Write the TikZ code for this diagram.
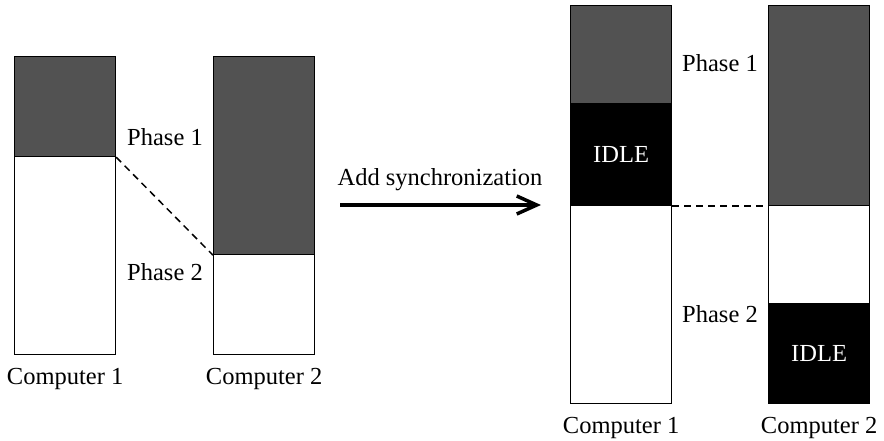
\documentclass[tikz,border=0pt]{standalone}
\usepackage{fontspec}
\setmainfont{Liberation Serif}
\usetikzlibrary{arrows.meta, positioning}

\tikzset{
phase/.style={draw, line width=1.2pt, inner sep=0, minimum width=101pt, anchor=north west},
busy/.style={phase, fill=black!68},
free/.style={phase, fill=white},
idle/.style={phase, fill=black, text=white},
complabel/.style={inner sep=0, below=13pt of #1},
sync line/.style={line width=1.5pt, dash pattern=on 7pt off 5pt}
}

\begin{document}
\begin{tikzpicture}[x=1pt, y=-1pt, font=\fontsize{24.5}{29}\selectfont]
\useasboundingbox (0,0) rectangle (884,440);

% before
\node (l1a) [busy, minimum height=100pt] at (14,56) {};
\node (l1b) [free, minimum height=198pt] at (14,156) {};
\node (l2a) [busy, minimum height=198pt] at (213,56) {};
\node (l2b) [free, minimum height=100pt] at (213,254) {};

\node (lp1) at (165,137) {Phase 1};
\node (lp2) at (165,272) {Phase 2};
\node (lc1) [complabel=l1b] {Computer 1};
\node (lc2) [complabel=l2b] {Computer 2};

\draw[sync line] (l1a.south east) -- (l2a.south west);

% arrow
\coordinate (syncfrom) at (340,205);
\coordinate (syncto) at (541,205);
\draw[line width=3.5pt, -{Straight Barb[length=20pt, width=18pt]}] (syncfrom) -- (syncto);
\node (sync) at (440,180) {Add synchronization};

% after
\node (r1a) [busy, minimum height=98pt] at (570,5) {};
\node (r1b) [idle, minimum height=102pt] at (570,103) {IDLE};
\node (r1c) [free, minimum height=198pt] at (570,205) {};
\node (r2a) [busy, minimum height=200pt] at (768,5) {};
\node (r2b) [free, minimum height=98pt] at (768,205) {};
\node (r2c) [idle, minimum height=100pt] at (768,303) {IDLE};

\node (rp1) at (720,63) {Phase 1};
\node (rp2) at (720,314) {Phase 2};
\node (rc1) [complabel=r1c] {Computer 1};
\node (rc2) [complabel=r2c] {Computer 2};

\draw[sync line] (r1b.south east) -- (r2a.south west);

\end{tikzpicture}
\end{document}
